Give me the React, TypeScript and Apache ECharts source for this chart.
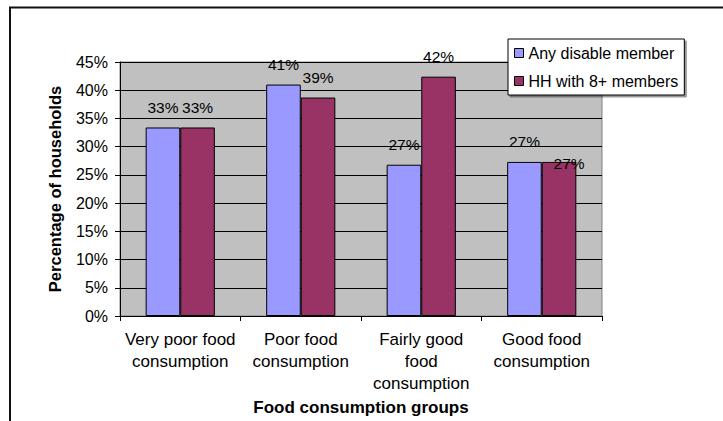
import React, { useEffect, useRef } from "react";
import * as echarts from "echarts";

const categories = [
  "Very poor food\nconsumption",
  "Poor food\nconsumption",
  "Fairly good\nfood\nconsumption",
  "Good food\nconsumption",
];
const seriesNames = ["Any disable member", "HH with 8+ members"];
const disableMember = [33.4, 41.0, 26.8, 27.3];
const hh8Members = [33.4, 38.7, 42.4, 27.3];
const yTicks = { min: 0, max: 45, interval: 5 };

const FONT = "Arial, 'Liberation Sans', sans-serif";

export default function App() {
  const ref = useRef<HTMLDivElement>(null);
  useEffect(() => {
    if (!ref.current) return;
    const chart = echarts.init(ref.current, undefined, { renderer: "svg" });
    const labelBase = {
      show: true,
      position: "top" as const,
      distance: 12,
      fontSize: 15.5,
      fontFamily: FONT,
      color: "#000",
      formatter: (p: any) => Math.round(p.value) + "%",
    };
    chart.setOption({
      animation: false,
      backgroundColor: "#fff",
      textStyle: { fontFamily: FONT },
      graphic: [
        {
          type: "rect",
          shape: { x: 10, y: 7.5, width: 900, height: 600 },
          style: { fill: "none", stroke: "#111", lineWidth: 2 },
          z: -1,
        },
      ],
      grid: {
        left: 120,
        top: 62,
        right: 121,
        bottom: 104,
        show: true,
        backgroundColor: "#C0C0C0",
        borderColor: "#808080",
        borderWidth: 1,
      },
      legend: {
        orient: "vertical",
        left: 508,
        top: 39,
        data: seriesNames,
        icon: "rect",
        itemWidth: 9,
        itemHeight: 9,
        itemGap: 12,
        padding: [6, 6, 6, 6],
        backgroundColor: "#fff",
        borderColor: "#000",
        borderWidth: 1,
        shadowColor: "rgba(0,0,0,0.4)",
        shadowOffsetX: 2,
        shadowOffsetY: 2,
        shadowBlur: 0,
        textStyle: { fontSize: 16, fontFamily: FONT, color: "#000", lineHeight: 16 },
        itemStyle: { borderColor: "#000", borderWidth: 1 },
      },
      xAxis: {
        type: "category",
        data: categories,
        name: "Food consumption groups",
        nameLocation: "middle",
        nameGap: 83,
        nameTextStyle: { fontSize: 17, fontWeight: "bold", fontFamily: FONT, color: "#000" },
        axisLine: { lineStyle: { color: "#000", width: 1 } },
        axisTick: { show: true, length: 5, lineStyle: { color: "#000" } },
        axisLabel: {
          interval: 0,
          margin: 12,
          fontSize: 17,
          lineHeight: 22,
          fontFamily: FONT,
          color: "#000",
        },
      },
      yAxis: {
        type: "value",
        min: yTicks.min,
        max: yTicks.max,
        interval: yTicks.interval,
        name: "Percentage of households",
        nameLocation: "middle",
        nameGap: 57,
        nameTextStyle: { fontSize: 16.5, fontWeight: "bold", fontFamily: FONT, color: "#000" },
        axisLine: { show: true, lineStyle: { color: "#000", width: 1 } },
        axisTick: { show: true, length: 5, lineStyle: { color: "#000" } },
        axisLabel: {
          margin: 12,
          fontSize: 16,
          fontFamily: FONT,
          color: "#000",
          formatter: "{value}%",
        },
        splitLine: { show: true, lineStyle: { color: "#000", width: 1 } },
      },
      series: [
        {
          name: seriesNames[0],
          type: "bar",
          data: disableMember,
          barGap: "0%",
          barCategoryGap: "42.6%",
          itemStyle: { color: "#9999FF", borderColor: "#000", borderWidth: 1 },
          label: labelBase,
        },
        {
          name: seriesNames[1],
          type: "bar",
          data: hh8Members.map((v, i) =>
            i === 3 ? { value: v, label: { offset: [10, 22] } } : v
          ),
          itemStyle: { color: "#993366", borderColor: "#000", borderWidth: 1 },
          label: labelBase,
        },
      ],
    });
    return () => chart.dispose();
  }, []);
  return (
    <div
      ref={ref}
      style={{ position: "fixed", left: 0, top: 0, width: 723, height: 421 }}
    />
  );
}
